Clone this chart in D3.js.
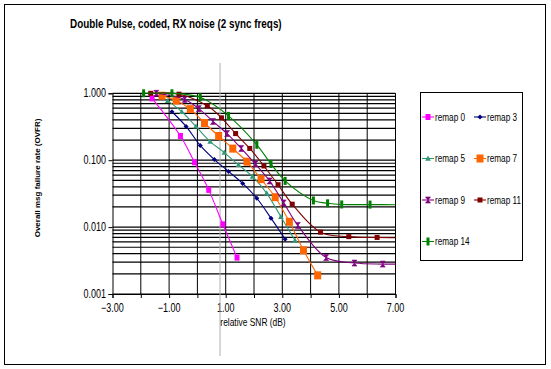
<!DOCTYPE html>
<html>
<head>
<meta charset="utf-8">
<script src="https://cdn.jsdelivr.net/npm/d3@7"></script>
<style>
  body { margin: 0; background: #fff; }
  text { font-family: Arial, "Liberation Sans", sans-serif; }
</style>
</head>
<body>
<div id="chart"></div>
<script>
// Series data (relative SNR in dB, failure rate)
const remap0x = [-1.6, -0.6, -0.1, 0.4, 0.9, 1.4];
const remap0y = [0.84, 0.23, 0.093, 0.036, 0.011, 0.0035];
const remap3x = [-0.9, -0.4, 0.1, 0.6, 1.1, 1.6, 2.1, 2.6, 3.1];
const remap3y = [0.53, 0.32, 0.166, 0.102, 0.068, 0.045, 0.027, 0.0136, 0.0066];
const remap5x = [-1.05, -0.55, -0.05, 0.45, 0.95, 1.45, 1.95, 2.45, 2.95, 3.45];
const remap5y = [0.77, 0.53, 0.32, 0.19, 0.13, 0.085, 0.057, 0.032, 0.0143, 0.0063];
const remap7x = [-1.25, -0.75, -0.25, 0.25, 0.75, 1.25, 1.75, 2.25, 2.75, 3.25, 3.75, 4.25];
const remap7y = [0.92, 0.78, 0.58, 0.36, 0.23, 0.149, 0.095, 0.052, 0.028, 0.012, 0.0045, 0.0019];
const remap9x = [-1.45, -0.45, 0.05, 0.55, 1.05, 1.55, 2.05, 2.55, 3.05, 3.55, 4.55, 5.55, 6.55, 7.55];
const remap9y = [1.0, 0.81, 0.59, 0.38, 0.25, 0.15, 0.088, 0.049, 0.023, 0.0106, 0.0035, 0.0029, 0.0028, 0.0028];
const remap11x = [-1.65, -0.65, 0.35, 0.85, 1.35, 1.85, 2.35, 2.85, 3.35, 4.35, 5.35, 6.35, 7.35];
const remap11y = [1.0, 0.97, 0.65, 0.43, 0.25, 0.15, 0.082, 0.043, 0.022, 0.0084, 0.0072, 0.0070, 0.0069];
const remap14x = [-1.9, -0.9, 0.1, 1.1, 2.1, 2.6, 3.1, 4.1, 4.6, 5.1, 6.1, 7.1];
const remap14y = [1.0, 1.0, 0.87, 0.46, 0.17, 0.088, 0.049, 0.025, 0.0227, 0.0218, 0.0217, 0.0216];

const seriesNames = ['remap 0', 'remap 3', 'remap 5', 'remap 7', 'remap 9', 'remap 11', 'remap 14'];
const xTickValues = [-3, -1, 1, 3, 5, 7];
const yTickValues = [1, 0.1, 0.01, 0.001];

const series = [
  { name: seriesNames[0], xs: remap0x, ys: remap0y, color: '#ff00ff', marker: 'square' },
  { name: seriesNames[1], xs: remap3x, ys: remap3y, color: '#000080', marker: 'diamond' },
  { name: seriesNames[2], xs: remap5x, ys: remap5y, color: '#339977', marker: 'triangle' },
  { name: seriesNames[3], xs: remap7x, ys: remap7y, color: '#ff6600', marker: 'bigsquare' },
  { name: seriesNames[4], xs: remap9x, ys: remap9y, color: '#800080', marker: 'hourglass' },
  { name: seriesNames[5], xs: remap11x, ys: remap11y, color: '#800000', marker: 'circle' },
  { name: seriesNames[6], xs: remap14x, ys: remap14y, color: '#008000', marker: 'bar' }
];

const W = 551, H = 369;
const svg = d3.select('#chart').append('svg')
  .attr('width', W)
  .attr('height', H);

svg.append('rect')
  .attr('x', 4.5).attr('y', 4.5)
  .attr('width', 541).attr('height', 360)
  .attr('fill', '#fff')
  .attr('stroke', '#000')
  .attr('stroke-width', 1);

const x = d3.scaleLinear().domain([-3, 7]).range([112.5, 395.5]);
const y = d3.scaleLog().domain([0.001, 1]).range([294, 93.3]);

// squeezed text, like the stretched original picture
function squeezed(parent, tx, ty, str, opts) {
  const g = parent.append('g').attr('transform', `translate(${tx},${ty}) scale(${opts.sx || 0.8},1)` + (opts.rot ? ` rotate(${opts.rot})` : ''));
  return g.append('text')
    .attr('text-anchor', opts.anchor || 'start')
    .attr('font-size', opts.size || 11)
    .attr('font-weight', opts.bold ? 'bold' : 'normal')
    .attr('fill', '#000')
    .text(str);
}

// Gridlines
const grid = svg.append('g');
const hLines = [];
[0.001, 0.01, 0.1].forEach(d => { for (let k = 1; k <= 9; k++) hLines.push(d * k); });
hLines.push(1);
grid.selectAll('line.h').data(hLines).enter().append('line')
  .attr('x1', x(-3)).attr('x2', x(7))
  .attr('y1', d => y(d)).attr('y2', d => y(d))
  .attr('stroke', '#000').attr('stroke-width', 1.2);

grid.selectAll('line.v').data(d3.range(-2, 8)).enter().append('line')
  .attr('x1', d => x(d)).attr('x2', d => x(d))
  .attr('y1', y(1)).attr('y2', y(0.001))
  .attr('stroke', '#000').attr('stroke-width', 1);

// Axes
const xAxis = d3.axisBottom(x).tickValues(d3.range(-3, 8)).tickSize(4).tickFormat('');
svg.append('g').attr('transform', `translate(0,${y(0.001)})`).call(xAxis)
  .call(g => g.select('.domain').attr('stroke', '#000'));
const yAxis = d3.axisLeft(y).tickValues(yTickValues).tickSize(4).tickFormat('');
svg.append('g').attr('transform', `translate(${x(-3)},0)`).call(yAxis)
  .call(g => g.select('.domain').attr('stroke', '#000'));

xTickValues.forEach(v => squeezed(svg, x(v), 312, d3.format('.2f')(v), { anchor: 'middle', size: 12, sx: 0.75 }));
yTickValues.forEach(v => squeezed(svg, 106, y(v) + 4, d3.format('.3f')(v), { anchor: 'end', size: 12, sx: 0.75 }));

// Annotation line near 1 dB
svg.append('line')
  .attr('x1', x(0.8)).attr('x2', x(0.8))
  .attr('y1', 63).attr('y2', 356)
  .attr('stroke', '#b0b0b0').attr('stroke-width', 1);

// Series
svg.append('clipPath').attr('id', 'plotclip').append('rect')
  .attr('x', x(-3)).attr('y', y(1) - 6)
  .attr('width', x(7) - x(-3)).attr('height', y(0.001) - y(1) + 6);

const line = d3.line()
  .x(d => x(d[0])).y(d => y(d[1]))
  .curve(d3.curveCatmullRom.alpha(0.5));

function drawMarker(g, type, color) {
  if (type === 'square') {
    g.append('rect').attr('x', -2.5).attr('y', -3).attr('width', 5).attr('height', 6).attr('fill', color);
  } else if (type === 'bigsquare') {
    g.append('rect').attr('x', -3.5).attr('y', -4).attr('width', 7).attr('height', 8).attr('fill', color);
  } else if (type === 'diamond') {
    g.append('path').attr('d', 'M0,-2.5L2.5,0L0,2.5L-2.5,0Z').attr('fill', color);
  } else if (type === 'triangle') {
    g.append('path').attr('d', 'M0,-3L2.8,2.2L-2.8,2.2Z').attr('fill', color);
  } else if (type === 'hourglass') {
    g.append('path').attr('d', 'M-2.5,-3L2.5,-3L-2.5,3L2.5,3Z').attr('fill', color).attr('stroke', color).attr('stroke-width', 0.6);
  } else if (type === 'circle') {
    g.append('rect').attr('x', -2.5).attr('y', -2.5).attr('width', 5).attr('height', 5).attr('fill', color);
  } else if (type === 'bar') {
    g.append('rect').attr('x', -1.5).attr('y', -4).attr('width', 3).attr('height', 8).attr('fill', color);
  }
}

const plot = svg.append('g').attr('clip-path', 'url(#plotclip)');
series.forEach(s => {
  const pts = s.xs.map((v, i) => [v, s.ys[i]]);
  plot.append('path')
    .datum(pts)
    .attr('d', line)
    .attr('fill', 'none')
    .attr('stroke', s.color)
    .attr('stroke-width', 1.1);
  plot.selectAll(null).data(pts).enter().append('g')
    .attr('transform', d => `translate(${x(d[0])},${y(d[1])})`)
    .each(function () { drawMarker(d3.select(this), s.marker, s.color); });
});

// Legend
const legend = svg.append('g');
legend.append('rect')
  .attr('x', 420.5).attr('y', 92.5).attr('width', 102).attr('height', 168)
  .attr('fill', '#fff').attr('stroke', '#000').attr('stroke-width', 1);
series.forEach((s, i) => {
  const col = i % 2, row = Math.floor(i / 2);
  const lx = 422 + col * 52, ly = 117 + row * 41.5;
  legend.append('line')
    .attr('x1', lx).attr('x2', lx + 12).attr('y1', ly).attr('y2', ly)
    .attr('stroke', s.color).attr('stroke-width', 1.1);
  drawMarker(legend.append('g').attr('transform', `translate(${lx + 6},${ly})`), s.marker, s.color);
  squeezed(legend, lx + 13, ly + 3.5, s.name, { size: 10.5, sx: 0.78 });
});

// Titles
squeezed(svg, 70, 28, 'Double Pulse, coded, RX noise (2 sync freqs)', { size: 13, bold: true, sx: 0.76 });
squeezed(svg, 253, 326, 'relative SNR (dB)', { anchor: 'middle', size: 10.5, sx: 0.8 });
squeezed(svg, 40, 178, 'Overall msg failure rate (OVFR)', { anchor: 'middle', size: 8, bold: true, sx: 1, rot: -90 });
</script>
</body>
</html>
